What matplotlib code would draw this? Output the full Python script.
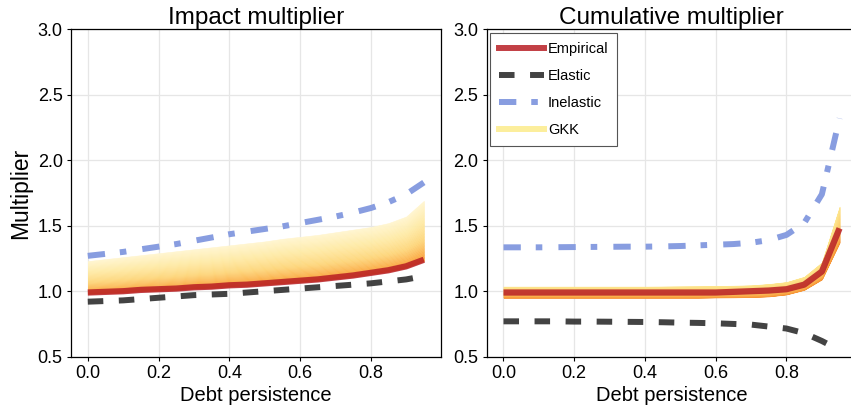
import numpy as np
import matplotlib
matplotlib.use("Agg")
import matplotlib.pyplot as plt
from matplotlib.colors import LinearSegmentedColormap
from matplotlib.lines import Line2D

plt.rcParams['font.family'] = ['Liberation Sans', 'DejaVu Sans']

# debt persistence grid
rho = [0.00, 0.05, 0.10, 0.15, 0.20, 0.25, 0.30, 0.35, 0.40, 0.45,
       0.50, 0.55, 0.60, 0.65, 0.70, 0.75, 0.80, 0.85, 0.90, 0.95]

# impact multiplier
emp_imp = [0.99, 0.995, 1.00, 1.01, 1.015, 1.02, 1.03, 1.035, 1.045, 1.05,
           1.06, 1.07, 1.08, 1.09, 1.105, 1.12, 1.14, 1.16, 1.19, 1.24]
ela_imp = [0.92, 0.925, 0.93, 0.94, 0.95, 0.96, 0.97, 0.975, 0.98, 0.99,
           1.00, 1.01, 1.02, 1.03, 1.04, 1.05, 1.06, 1.075, 1.09, 1.115]
inel_imp = [1.27, 1.285, 1.30, 1.32, 1.34, 1.36, 1.385, 1.41, 1.435, 1.455,
            1.475, 1.495, 1.52, 1.545, 1.57, 1.60, 1.635, 1.68, 1.74, 1.83]
gkk_lo_imp = [0.98, 0.985, 0.99, 1.00, 1.005, 1.01, 1.02, 1.025, 1.035, 1.04,
              1.05, 1.06, 1.07, 1.08, 1.095, 1.11, 1.13, 1.15, 1.18, 1.23]
gkk_hi_imp = [1.23, 1.245, 1.26, 1.275, 1.29, 1.305, 1.32, 1.335, 1.35, 1.365,
              1.38, 1.40, 1.415, 1.43, 1.45, 1.47, 1.49, 1.52, 1.57, 1.69]

# cumulative multiplier
emp_cum = [0.99, 0.99, 0.99, 0.99, 0.99, 0.99, 0.99, 0.99, 0.99, 0.99,
           0.99, 0.99, 0.99, 0.995, 1.00, 1.005, 1.015, 1.05, 1.15, 1.48]
ela_cum = [0.77, 0.77, 0.77, 0.77, 0.768, 0.768, 0.767, 0.766, 0.765, 0.763,
           0.76, 0.758, 0.755, 0.75, 0.745, 0.73, 0.715, 0.68, 0.62, 0.55]
inel_cum = [1.335, 1.335, 1.335, 1.336, 1.337, 1.338, 1.339, 1.34, 1.34, 1.342,
            1.345, 1.35, 1.355, 1.36, 1.37, 1.39, 1.43, 1.52, 1.74, 2.32]
gkk_lo_cum = [0.95, 0.95, 0.95, 0.95, 0.95, 0.95, 0.95, 0.95, 0.95, 0.95,
              0.95, 0.95, 0.952, 0.953, 0.955, 0.96, 0.975, 1.01, 1.09, 1.37]
gkk_hi_cum = [1.035, 1.035, 1.035, 1.035, 1.035, 1.035, 1.035, 1.035, 1.035, 1.036,
              1.037, 1.038, 1.04, 1.042, 1.045, 1.055, 1.07, 1.11, 1.22, 1.645]

yticks = [0.5, 1.0, 1.5, 2.0, 2.5, 3.0]
xticks = [0.0, 0.2, 0.4, 0.6, 0.8]

fan_imp = LinearSegmentedColormap.from_list(
    'fan_imp', ['#f58a2a', '#fbb14e', '#fdd77e', '#feeaa6', '#fff5cf'])
fan_cum = LinearSegmentedColormap.from_list(
    'fan_cum', ['#f58a2a', '#fbb14e', '#fdd170', '#fde48c'])


def draw_fan(ax, x, lo, hi, cmap, n=40, power=0.7):
    lo = np.asarray(lo)
    hi = np.asarray(hi)
    for i in range(n):
        f0, f1 = i / n, (i + 1) / n
        c = cmap((f0 + 0.5 / n) ** power)
        ax.fill_between(x, lo + (hi - lo) * f0, lo + (hi - lo) * f1,
                        color=c, lw=0.4, edgecolor=c, zorder=2)


def panel(ax, title, emp, ela, inel, lo, hi, cmap):
    draw_fan(ax, rho, lo, hi, cmap)
    ax.plot(rho, ela, color='#333333', alpha=0.92, lw=4.3,
            linestyle=(0, (2.6, 2.6)), zorder=3)
    ax.plot(rho, inel, color='#889de0', lw=4.3,
            linestyle=(0, (2.9, 2.5, 1.1, 2.7)), zorder=3)
    ax.plot(rho, emp, color='#b81e24', alpha=0.85, lw=4.5, zorder=4,
            solid_capstyle='butt')
    ax.set_ylim(0.5, 3.0)
    ax.set_yticks(yticks)
    ax.set_yticklabels([f"{v:.1f}" for v in yticks])
    ax.set_xticks(xticks)
    ax.set_xticklabels([f"{v:.1f}" for v in xticks])
    ax.grid(True, color='#e6e6e6', lw=0.9)
    ax.set_axisbelow(True)
    ax.tick_params(direction='out', length=3, width=0.8, labelsize=13, pad=3)
    for s in ax.spines.values():
        s.set_linewidth(0.9)
    ax.set_title(title, fontsize=17.5, pad=4)
    ax.set_xlabel("Debt persistence", fontsize=14.5, labelpad=3)


fig = plt.figure(figsize=(8.51, 4.15), dpi=100)
ax1 = fig.add_axes([0.0834, 0.1405, 0.4344, 0.789])
ax2 = fig.add_axes([0.5719, 0.1405, 0.4344, 0.789])

panel(ax1, "Impact multiplier", emp_imp, ela_imp, inel_imp,
      gkk_lo_imp, gkk_hi_imp, fan_imp)
panel(ax2, "Cumulative multiplier", emp_cum, ela_cum, inel_cum,
      gkk_lo_cum, gkk_hi_cum, fan_cum)
ax1.set_ylabel("Multiplier", fontsize=16.5, labelpad=4)

handles = [
    Line2D([], [], color='#b81e24', alpha=0.85, lw=4.3),
    Line2D([], [], color='#333333', alpha=0.92, lw=4.3, linestyle=(0, (2.6, 2.6))),
    Line2D([], [], color='#889de0', lw=4.3, linestyle=(0, (2.9, 2.5, 1.1, 2.7))),
    Line2D([], [], color='#fcee9c', lw=4.3),
]
leg = ax2.legend(handles, ["Empirical", "Elastic", "Inelastic", "GKK"],
                 loc='upper left', fontsize=10.5, handlelength=3.1,
                 handletextpad=0.25, labelspacing=0.9, borderpad=0.6,
                 fancybox=False, framealpha=1, edgecolor='#555555',
                 bbox_to_anchor=(0.0, 1.0), borderaxespad=0.25)
leg.get_frame().set_linewidth(0.8)

fig.savefig("out.png", dpi=100)
